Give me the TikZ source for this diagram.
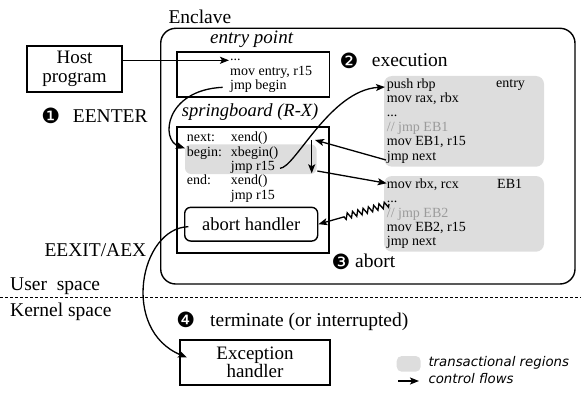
\documentclass[tikz,border=0pt]{standalone}
\usepackage{fontspec}
\setmainfont{Liberation Serif}
\newfontfamily\symfont{DejaVu Sans}
\usetikzlibrary{arrows.meta, positioning, calc, decorations.pathmorphing}
\definecolor{cRegion}{RGB}{221,221,221}
\definecolor{cComment}{RGB}{155,155,155}
\tikzset{
	blk/.style      ={rectangle, draw=black, line width=1.8pt, inner sep=0pt, align=center, font=\fontsize{19}{19.5}\selectfont},
	lbl/.style      ={inner sep=0pt, anchor=base west, font=\fontsize{19.5}{20}\selectfont},
	code/.style     ={inner sep=0pt, anchor=base west, align=left, font=\fontsize{14}{14.4}\selectfont},
	num/.style      ={inner sep=0pt, font=\symfont\fontsize{21}{21}\selectfont},
	region/.style   ={fill=cRegion, rounded corners=8pt},
	flowarrow/.style={-{Stealth[length=9pt, width=7pt, inset=2pt]}, line width=1.3pt},
	% legend text
	legend/.style   ={inner sep=0pt, anchor=base west, font=\symfont\itshape\fontsize{13.3}{14}\selectfont},
}
\newcommand{\cmt}[1]{\textcolor{cComment}{#1}}

\begin{document}
\begin{tikzpicture}[x=1pt, y=-1pt]
	\useasboundingbox (0,0) rectangle (581,404);
	% enclave
	\draw[line width=1.4pt, rounded corners=15pt] (160.7,28.3) rectangle (575,284);
	\node[lbl] (encl) at (168.3,24) {Enclave};
	% transactional regions
	\fill[region] (384,76) rectangle (544,166.7);
	\fill[region] (384,176) rectangle (544,251.7);
	\fill[region, rounded corners=6pt] (185,144.3) rectangle (316.7,174);
	% boxes
	\node[blk, minimum width=94.4pt, minimum height=45.7pt] (host) at (74.5,68.9) {Host\\program};
	\node[blk, minimum width=152.8pt, minimum height=45.6pt] (entrybox) at (253.1,74.5) {};
	\node[blk, minimum width=152pt, minimum height=126.6pt] (sbbox) at (253.3,190) {};
	\node[blk, line width=1.4pt, rounded corners=6pt, minimum width=133pt, minimum height=33.7pt, font=\fontsize{18.5}{19}\selectfont] (abortbox) at (251.2,224.2) {abort handler};
	\node[blk, minimum width=150pt, minimum height=45pt, font=\fontsize{19}{18.3}\selectfont] (exbox) at (255,362.5) {Exception\\handler};
	% code (anchored at the baseline of the last line)
	\node[lbl, font=\itshape\fontsize{19}{20}\selectfont] (entrylbl) at (210,43.3) {entry point};
	\node[code] (entrycode) at (230,89.5) {...\\mov entry, r15\\jmp begin};
	\node[lbl, font=\itshape\fontsize{18.5}{20}\selectfont] (sblbl) at (181.7,116.7) {springboard (R-X)};
	\node[code] (sblabels) at (186.7,184.9) {next:\\begin:\\\mbox{}\\end:};
	\node[code] (sbcode) at (230.7,199.3) {xend()\\xbegin()\\jmp r15\\xend()\\jmp r15};
	\node[code] (entryblk) at (386.7,160) {push rbp\\mov rax, rbx\\...\\\cmt{// jmp EB1}\\mov EB1, r15\\jmp next};
	\node[code] (entryname) at (496,88) {entry};
	\node[code] (ebblk) at (386.7,245.9) {mov rbx, rcx\\...\\\cmt{// jmp EB2}\\mov EB2, r15\\jmp next};
	\node[code] (ebname) at (497,188.3) {EB1};
	% steps
	\node[num] (s1) at (50.7,115.7) {❶};
	\node[lbl] (eenter) at (72.7,122.7) {EENTER};
	\node[num] (s2) at (349,61) {❷};
	\node[lbl] (exec) at (371.7,66.7) {execution};
	\node[num] (s3) at (341,262) {❸};
	\node[lbl] (abrt) at (355,267.3) {abort};
	\node[num] (s4) at (185.7,320) {❹};
	\node[lbl] (term) at (210,326.7) {terminate (or interrupted)};
	\node[lbl] (eexit) at (44.3,256) {EEXIT/AEX};
	% user / kernel
	\node[lbl] (user) at (10,290) {User~~space};
	\node[lbl] (kernel) at (10,316.7) {Kernel space};
	\draw[line width=1pt, dash pattern=on 3pt off 2pt] (0,297.7) -- (581,297.7);
	% connector ends
	\coordinate (edots) at (229,60.3);
	\coordinate (jbegin) at (222.7,87.3);
	\coordinate (lbegin) at (185,148.3);
	\coordinate (jr15) at (280,168.3);
	\coordinate (pushrbp) at (385,87);
	\coordinate (jnext) at (386,160);
	\coordinate (sbnext) at (315,140);
	\coordinate (dtop) at (311.7,140);
	\coordinate (dbot) at (311.7,173.3);
	\coordinate (sbout) at (317.3,171);
	\coordinate (movrbx) at (386.7,183.3);
	\coordinate (ebdots) at (389,204);
	\coordinate (ahout) at (188.3,226.7);
	\coordinate (exin) at (187,357.5);
	% control flows
	\draw[flowarrow] (host.east |- edots) -- (edots);
	\draw[flowarrow] (jbegin) .. controls (165,90) and (160,140) .. (lbegin);
	\draw[flowarrow] (jr15) .. controls (295,168) and (330,90) .. (pushrbp);
	\draw[flowarrow] (jnext) -- (sbnext); \draw[flowarrow] (dtop) -- (dbot); \draw[flowarrow] (sbout) -- (movrbx);
	\draw[flowarrow, decorate, decoration={zigzag, segment length=5.5pt, amplitude=3pt, post=lineto, post length=25pt}] (ebdots) -- (abortbox.east);
	\draw[flowarrow] (ahout) .. controls (140,228) and (120,330) .. (exin);
	% legend
	\fill[region, rounded corners=5pt] (396.7,356) rectangle (420.7,371.7);
	\node[legend] (lgreg) at (428.3,366.7) {transactional regions};
	\coordinate (lga) at (398,381); \coordinate (lgb) at (419,381);
	\draw[flowarrow] (lga) -- (lgb);
	\node[legend] (lgflow) at (428.3,383.3) {control flows};
\end{tikzpicture}
\end{document}
